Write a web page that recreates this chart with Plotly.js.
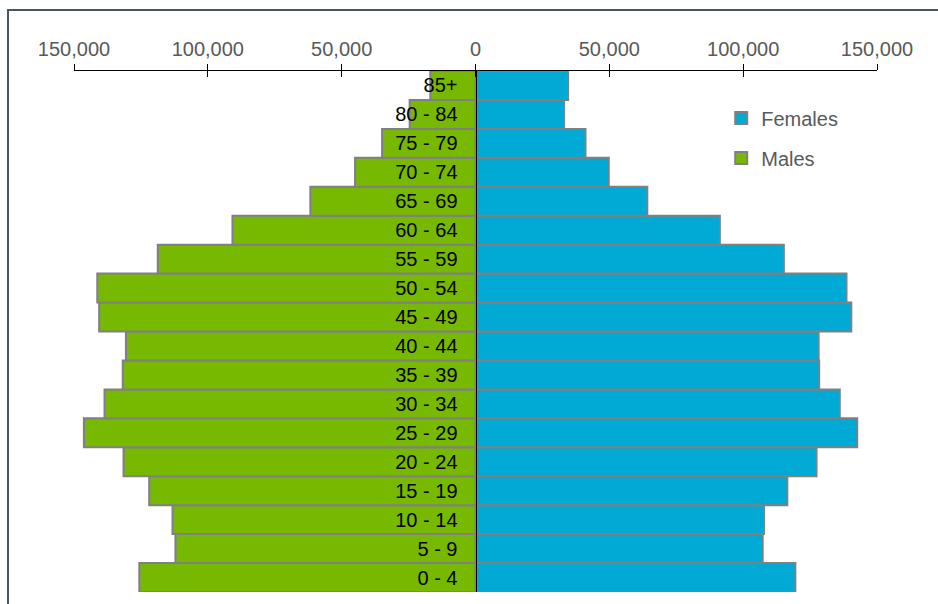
<!DOCTYPE html>
<html>
<head>
<meta charset="utf-8">
<script src="https://cdn.plot.ly/plotly-3.0.1.min.js"></script>
<style>
html,body{margin:0;padding:0;background:#fff;}
#chart{width:938px;height:604px;}
</style>
</head>
<body>
<div id="chart"></div>
<script>
// Age groups, bottom to top
const ageGroups = ["0 - 4","5 - 9","10 - 14","15 - 19","20 - 24","25 - 29","30 - 34","35 - 39","40 - 44","45 - 49","50 - 54","55 - 59","60 - 64","65 - 69","70 - 74","75 - 79","80 - 84","85+"];
const males = [125600,112100,113200,121900,131500,146300,138600,131800,130600,140600,141300,118700,90800,61700,45000,34900,24600,16900];
const females = [119500,107300,107800,116500,127400,142600,136100,128400,128200,140400,138600,115200,91300,64200,49800,41100,33100,34600];
const tickValues = [-150000,-100000,-50000,0,50000,100000,150000];
const tickLabels = ["150,000","100,000","50,000","0","50,000","100,000","150,000"];

const FONT = "Liberation Sans, Arial, sans-serif";

const traces = [
  {
    type: "bar", orientation: "h", name: "Females",
    y: ageGroups, x: females,
    marker: {color: "#00AAD4", line: {color: "#808080", width: 2}},
    legendgroup: "f", hoverinfo: "skip"
  },
  {
    type: "bar", orientation: "h", name: "Males",
    y: ageGroups, x: males.map(v => -v),
    marker: {color: "#77B900", line: {color: "#808080", width: 2}},
    legendgroup: "m", hoverinfo: "skip"
  }
];

const layout = {
  width: 938, height: 604,
  margin: {l: 74, r: 61, t: 71, b: 12},
  paper_bgcolor: "#fff", plot_bgcolor: "rgba(0,0,0,0)",
  barmode: "relative", bargap: 0,
  font: {family: FONT, size: 20, color: "#595959"},
  showlegend: true,
  legend: {
    x: 0.806, y: 0.947, xanchor: "left", yanchor: "top",
    font: {family: FONT, size: 20, color: "#595959"},
    traceorder: "grouped", tracegroupgap: 11,
    bgcolor: "rgba(0,0,0,0)"
  },
  xaxis: {
    side: "top", range: [-150000, 150000],
    tickvals: tickValues, ticktext: tickLabels,
    showline: true, linecolor: "#000", linewidth: 1.5,
    ticks: "outside", ticklen: 6, tickcolor: "#000", tickwidth: 1,
    showgrid: false, zeroline: false, fixedrange: true,
    tickfont: {family: FONT, size: 20, color: "#595959"}
  },
  xaxis2: {
    overlaying: "x", side: "top", range: [-150000, 150000],
    tickvals: tickValues, showticklabels: false,
    ticks: "inside", ticklen: 6, tickcolor: "#000", tickwidth: 1,
    showline: false, showgrid: false, zeroline: false, fixedrange: true
  },
  yaxis: {
    anchor: "free", position: 0.5, range: [-0.5, 17.5],
    type: "category",
    showline: true, linecolor: "#000", linewidth: 1.5,
    ticks: "", ticklabelstandoff: 14,
    showgrid: false, zeroline: false, fixedrange: true,
    tickfont: {family: FONT, size: 20, color: "#000"}
  },
  shapes: [{
    type: "rect", xref: "paper", yref: "paper",
    x0: (8 - 74) / 803, x1: 1.3,
    y0: -0.2, y1: 1 + (71 - 10) / 521,
    line: {color: "#4a5660", width: 2}, fillcolor: "rgba(0,0,0,0)", layer: "below"
  }]
};

// invisible helper trace so the second top axis (crossing tick halves) is drawn
traces.push({type: "scatter", x: [0], y: [ageGroups[0]], xaxis: "x2", mode: "none", showlegend: false, hoverinfo: "skip"});

Plotly.newPlot("chart", traces, layout, {displayModeBar: false, staticPlot: true});
</script>
</body>
</html>
